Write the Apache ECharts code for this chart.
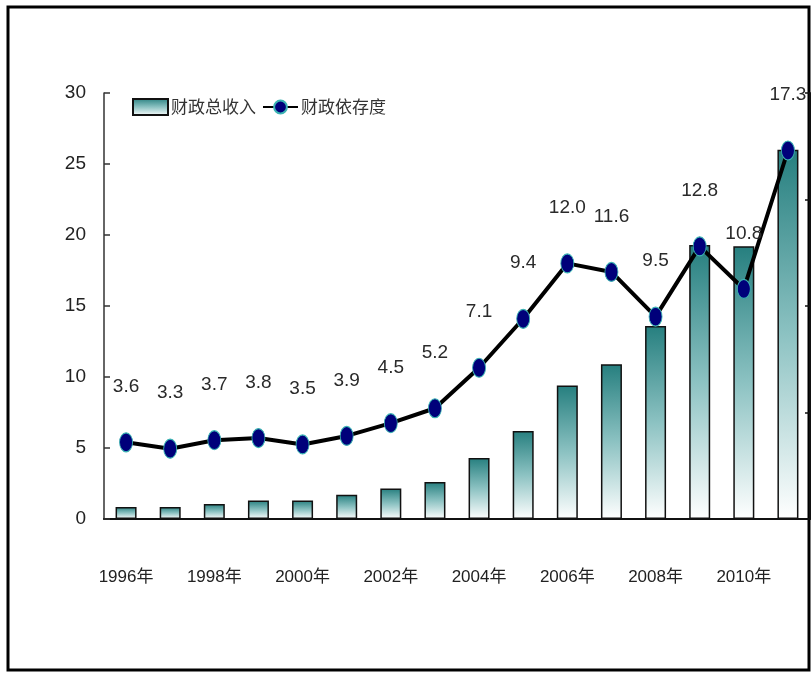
<!DOCTYPE html>
<html>
<head>
<meta charset="utf-8">
<script src="https://cdn.jsdelivr.net/npm/echarts@6/dist/echarts.min.js"></script>
<style>
  html, body { margin: 0; padding: 0; background: #fff; }
  #chart { width: 811px; height: 673px; }
</style>
</head>
<body>
<div id="chart"></div>
<script>
// 年份
const years = ['1996年', '1997年', '1998年', '1999年', '2000年', '2001年', '2002年', '2003年',
  '2004年', '2005年', '2006年', '2007年', '2008年', '2009年', '2010年', '2011年']
// 财政总收入（左轴）
const revenue = [0.85, 0.85, 1.05, 1.3, 1.3, 1.7, 2.15, 2.6, 4.3, 6.2, 9.4, 10.9, 13.6, 19.3, 19.2, 26.0]
// 财政依存度（右轴）
const dependency = [3.6, 3.3, 3.7, 3.8, 3.5, 3.9, 4.5, 5.2, 7.1, 9.4, 12.0, 11.6, 9.5, 12.8, 10.8, 17.3]

const font = "'Liberation Sans', 'Noto Sans CJK SC', sans-serif"

const myChart = echarts.init(document.getElementById('chart'))

const barFill = new echarts.graphic.LinearGradient(0, 0, 0, 1, [
  { offset: 0, color: '#267f7f' },
  { offset: 0.5, color: '#8cc2c2' },
  { offset: 1, color: '#ffffff' }
])

const option = {
  backgroundColor: '#fff',
  animation: false,
  textStyle: { fontFamily: font },
  graphic: [{
    type: 'rect',
    shape: { x: 8, y: 7, width: 801, height: 663 },
    style: { fill: 'none', stroke: '#000', lineWidth: 3 },
    silent: true
  }],
  legend: {
    left: 127,
    top: 93,
    itemWidth: 35,
    itemHeight: 16,
    itemGap: 6,
    textStyle: { fontSize: 17, color: '#333', fontFamily: "'Noto Sans CJK SC', sans-serif", padding: [0, 0, 0, -2] },
    data: [{ name: '财政总收入', icon: 'rect' }, { name: '财政依存度' }]
  },
  grid: {
    left: 104,
    right: 1,
    top: 93,
    bottom: 154
  },
  xAxis: {
    type: 'category',
    data: years,
    axisLine: { lineStyle: { color: '#111', width: 2 } },
    axisTick: { inside: true, length: 7, interval: 0, lineStyle: { color: '#111', width: 1.5 } },
    axisLabel: { interval: 1, margin: 50, fontSize: 17, color: '#222' },
    splitLine: { show: false }
  },
  yAxis: [{
    type: 'value',
    min: 0,
    max: 30,
    interval: 5,
    axisLine: { show: true, lineStyle: { color: '#333', width: 1.5 } },
    axisTick: { show: true, inside: true, length: 6, lineStyle: { color: '#333', width: 1.5 } },
    axisLabel: { margin: 18, fontSize: 19, color: '#222' },
    splitLine: { show: false }
  }, {
    type: 'value',
    min: 0,
    max: 20,
    interval: 5,
    position: 'right',
    axisLine: { show: true, lineStyle: { color: '#111', width: 2 } },
    axisTick: { show: true, inside: true, length: 5, lineStyle: { color: '#111', width: 1.5 } },
    axisLabel: { show: false },
    splitLine: { show: false }
  }],
  series: [{
    name: '财政总收入',
    type: 'bar',
    barWidth: 21,
    data: revenue,
    itemStyle: {
      color: barFill,
      borderColor: '#111',
      borderWidth: 1.5
    }
  }, {
    name: '财政依存度',
    type: 'line',
    yAxisIndex: 1,
    data: dependency,
    symbol: 'circle',
    symbolSize: [13, 19],
    lineStyle: { color: '#000', width: 4 },
    itemStyle: { color: '#00007a', borderColor: '#3bb3b3', borderWidth: 1 },
    label: {
      show: true,
      position: 'top',
      distance: 36,
      fontSize: 19,
      color: '#2a2a2a',
      formatter: p => p.value.toFixed(1)
    },
    z: 5
  }]
}

myChart.setOption(option)
</script>
</body>
</html>
